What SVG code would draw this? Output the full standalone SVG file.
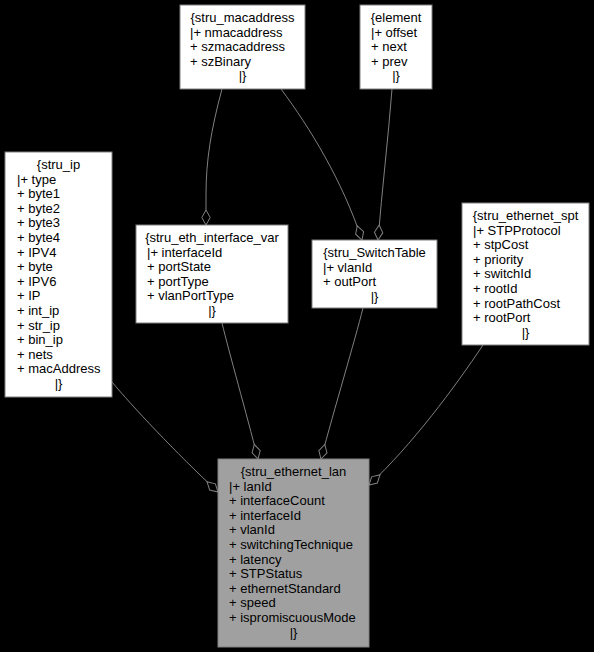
<svg xmlns="http://www.w3.org/2000/svg" width="594" height="652" viewBox="0 0 594 652">
<defs>
<style>
.bg{fill:#000000}
.box{fill:#ffffff;stroke:#808080;stroke-width:1}
.main{fill:#a0a0a0;stroke:#808080;stroke-width:1}
text{font-family:"Liberation Sans",Arial,sans-serif;font-size:13px;fill:#000000}
.c{text-anchor:middle}
.edge{fill:none;stroke:#808080;stroke-width:1;marker-end:url(#odiamond)}
</style>
<marker id="odiamond" markerUnits="userSpaceOnUse" markerWidth="16" markerHeight="10" refX="15" refY="5" orient="auto" overflow="visible">
<path d="M0,5 L7.5,0.8 L15,5 L7.5,9.2 Z" fill="#000000" stroke="#808080" stroke-width="1"/>
</marker>
</defs>
<rect class="bg" x="0" y="0" width="594" height="652"/>
<g id="connectors">
<path class="edge" d="M222,89 C211,130 206,160 206,195 L206,225"/>
<path class="edge" d="M281,89 C310,128 342,180 362,240"/>
<path class="edge" d="M392,89 C388,140 382,190 378,240"/>
<path class="edge" d="M112,382 C132,406 175,452 218,492"/>
<path class="edge" d="M222,323 C229,352 246,412 258,459"/>
<path class="edge" d="M363,308 C355,340 334,410 321,459"/>
<path class="edge" d="M483,345 C455,387 412,445 369,485"/>
</g>
<g id="stru_macaddress">
<rect class="box" x="180" y="5" width="125" height="84"/>
<text class="c" x="242.5" y="22">{stru_macaddress</text>
<text x="190" y="36.6">|+ nmacaddress</text>
<text x="190" y="51.2">+ szmacaddress</text>
<text x="190" y="65.8">+ szBinary</text>
<text class="c" x="242.5" y="80.4">|}</text>
</g>
<g id="element">
<rect class="box" x="360" y="5" width="72" height="84"/>
<text class="c" x="396" y="22">{element</text>
<text x="371" y="36.6">|+ offset</text>
<text x="371" y="51.2">+ next</text>
<text x="371" y="65.8">+ prev</text>
<text class="c" x="396" y="80.4">|}</text>
</g>
<g id="stru_ip">
<rect class="box" x="5" y="152" width="107" height="245"/>
<text class="c" x="58.5" y="169">{stru_ip</text>
<text x="17" y="183.6">|+ type</text>
<text x="17" y="198.2">+ byte1</text>
<text x="17" y="212.8">+ byte2</text>
<text x="17" y="227.4">+ byte3</text>
<text x="17" y="242">+ byte4</text>
<text x="17" y="256.6">+ IPV4</text>
<text x="17" y="271.2">+ byte</text>
<text x="17" y="285.8">+ IPV6</text>
<text x="17" y="300.4">+ IP</text>
<text x="17" y="315">+ int_ip</text>
<text x="17" y="329.6">+ str_ip</text>
<text x="17" y="344.2">+ bin_ip</text>
<text x="17" y="358.8">+ nets</text>
<text x="17" y="373.4">+ macAddress</text>
<text class="c" x="58.5" y="388">|}</text>
</g>
<g id="stru_eth_interface_var">
<rect class="box" x="136" y="225" width="152" height="98"/>
<text class="c" x="212" y="242">{stru_eth_interface_var</text>
<text x="147" y="256.6">|+ interfaceId</text>
<text x="147" y="271.2">+ portState</text>
<text x="147" y="285.8">+ portType</text>
<text x="147" y="300.4">+ vlanPortType</text>
<text class="c" x="212" y="315">|}</text>
</g>
<g id="stru_SwitchTable">
<rect class="box" x="312" y="240" width="125" height="68"/>
<text class="c" x="374.5" y="257">{stru_SwitchTable</text>
<text x="323" y="271.6">|+ vlanId</text>
<text x="323" y="286.2">+ outPort</text>
<text class="c" x="374.5" y="300.8">|}</text>
</g>
<g id="stru_ethernet_spt">
<rect class="box" x="462" y="203" width="127" height="142"/>
<text class="c" x="525.5" y="220">{stru_ethernet_spt</text>
<text x="473" y="234.6">|+ STPProtocol</text>
<text x="473" y="249.2">+ stpCost</text>
<text x="473" y="263.8">+ priority</text>
<text x="473" y="278.4">+ switchId</text>
<text x="473" y="293">+ rootId</text>
<text x="473" y="307.6">+ rootPathCost</text>
<text x="473" y="322.2">+ rootPort</text>
<text class="c" x="525.5" y="336.8">|}</text>
</g>
<g id="stru_ethernet_lan">
<rect class="main" x="218" y="459" width="151" height="188"/>
<text class="c" x="293.5" y="476">{stru_ethernet_lan</text>
<text x="229" y="490.6">|+ lanId</text>
<text x="229" y="505.2">+ interfaceCount</text>
<text x="229" y="519.8">+ interfaceId</text>
<text x="229" y="534.4">+ vlanId</text>
<text x="229" y="549">+ switchingTechnique</text>
<text x="229" y="563.6">+ latency</text>
<text x="229" y="578.2">+ STPStatus</text>
<text x="229" y="592.8">+ ethernetStandard</text>
<text x="229" y="607.4">+ speed</text>
<text x="229" y="622">+ ispromiscuousMode</text>
<text class="c" x="293.5" y="636.6">|}</text>
</g>
</svg>
